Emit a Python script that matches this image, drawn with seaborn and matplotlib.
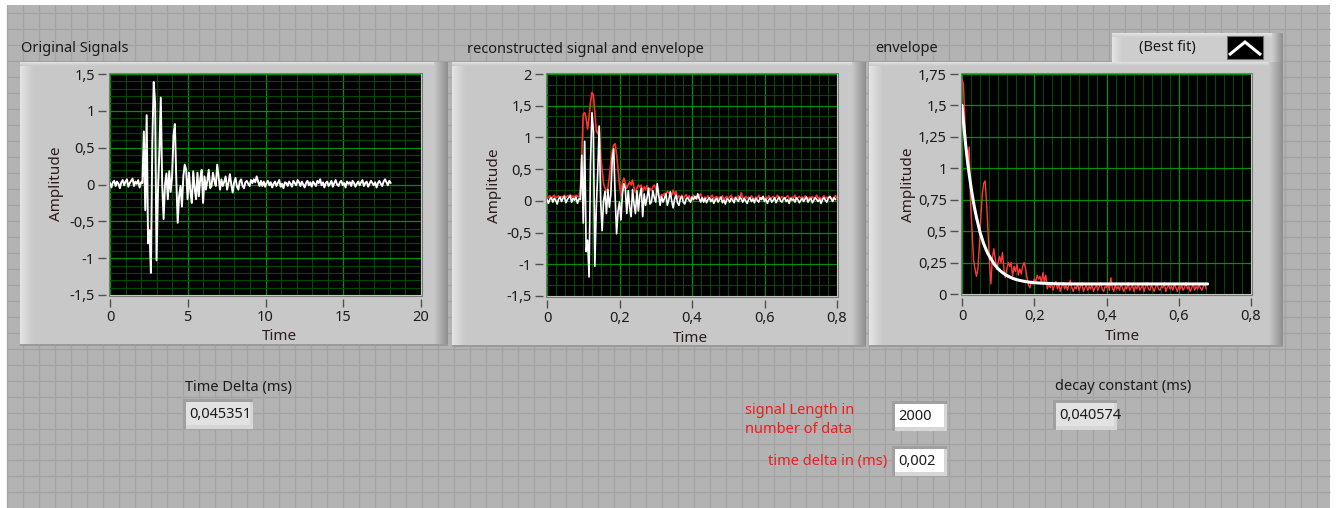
import numpy as np
import pandas as pd
import matplotlib
matplotlib.use("Agg")
import matplotlib.pyplot as plt
import seaborn as sns
from matplotlib.ticker import MultipleLocator, FuncFormatter, NullLocator
from matplotlib.patches import Rectangle, Polygon
from matplotlib.colors import LinearSegmentedColormap

# ---------------- data ----------------
TIME_DELTA_ORIG = 0.045351      # ms, "Time Delta (ms)"
TIME_DELTA_IN = 0.002           # ms, "time delta in (ms)"
SIGNAL_LENGTH = 2000            # "signal Length in number of data"
DECAY_CONSTANT = 0.040574       # ms
SAMPLE_STEP = 2                 # every 2nd sample kept

signal_pre = [0.02, -0.04, 0.03, 0.05, -0.02, 0.04, 0.01, -0.05, 0.03, 0.06,
              -0.01, 0.04, 0.07, -0.03, 0.02, 0.05, 0.08, -0.02, 0.04, 0.01,
              0.06, -0.04, 0.03, 0.02]
signal_burst = [0.72, -0.35, 0.94, -0.8, -0.62, -1.2, 0.58, 1.39, 1.1, -1.03,
                -0.1, 0.45, 1.18, 0.0, -0.47, 0.0, 0.15, -0.2, 0.18, -0.1,
                0.1, 0.66, 0.82, 0.07, -0.52, -0.16, -0.02, -0.3, 0.11, 0.27,
                0.2, -0.2, 0.16, -0.1, -0.25, 0.18, -0.05, -0.2, 0.16, -0.16,
                0.08, 0.2, -0.25, 0.11, -0.07, 0.05, 0.2, -0.05, -0.02, 0.16,
                0.05, -0.02, 0.27, 0.1, -0.07, 0.07, -0.02, 0.04, 0.11, -0.07,
                0.02, 0.14, 0.0, -0.11, 0.03, 0.09, -0.03, -0.07, 0.04, 0.07,
                -0.02, -0.05, 0.03, 0.05, 0.01, -0.02, 0.06, 0.02, 0.07, 0.03,
                0.11, 0.04, -0.02, 0.05]
signal_tail = [-0.02, 0.04, -0.03, 0.02, 0.05, -0.01, 0.03, -0.04, 0.01, 0.04,
               -0.02, 0.02, 0.06, -0.03, 0.01, -0.05, 0.03, 0.02, -0.02, 0.04,
               0.01, -0.03, 0.05, 0.02, -0.01, 0.06, 0.03, -0.02, 0.04, 0.0,
               -0.04, 0.02, 0.05, -0.01, 0.03, -0.03, 0.04, 0.01, -0.02, 0.05,
               0.02, 0.07, -0.01, 0.03, -0.04, 0.02, 0.04, -0.02, 0.01, 0.05,
               -0.03, 0.02, 0.06, 0.0, -0.02, 0.03, 0.05, -0.01, 0.02, -0.04,
               0.04, 0.01, 0.03, -0.02, 0.05, 0.02, -0.03, 0.01, 0.04, -0.01,
               0.03, 0.06, -0.02, 0.02, 0.04, -0.03, 0.01, 0.05, 0.02, -0.01,
               0.03, -0.04, 0.02, 0.05, 0.01, -0.02, 0.04, 0.07, 0.03, -0.01,
               0.05, 0.02]

envelope_pre = [0.06, 0.05, 0.08, 0.04, 0.07, 0.09, 0.05, 0.06, 0.08, 0.04,
                0.07, 0.06, 0.09, 0.05, 0.08, 0.07, 0.1, 0.06, 0.08, 0.05,
                0.09, 0.07, 0.06, 0.18, 0.75, 1.37, 1.39, 1.3, 1.13, 1.32, 1.55]
envelope_decay = [1.71, 1.67, 1.38, 1.1, 1.06, 1.17, 0.7, 0.5, 0.27, 0.2,
                  0.14, 0.2, 0.38, 0.6, 0.79, 0.88, 0.9, 0.73, 0.5, 0.25,
                  0.08, 0.28, 0.36, 0.28, 0.2, 0.25, 0.3, 0.25, 0.33, 0.2,
                  0.13, 0.2, 0.25, 0.22, 0.25, 0.14, 0.22, 0.18, 0.24, 0.15,
                  0.2, 0.16, 0.22, 0.25, 0.2, 0.13, 0.07, 0.05, 0.1, 0.08,
                  0.12, 0.1, 0.15, 0.12, 0.14, 0.09, 0.17, 0.1, 0.15, 0.04, 0.08]
envelope_tail = [0.05, 0.09, 0.03, 0.07, 0.1, 0.04, 0.08, 0.02, 0.06, 0.09,
                 0.04, 0.07, 0.03, 0.08, 0.11, 0.05, 0.02, 0.06, 0.04, 0.08,
                 0.03, 0.06, 0.09, 0.02, 0.05, 0.07, 0.03, 0.06, 0.04, 0.08,
                 0.02, 0.05, 0.07, 0.03, 0.06, 0.09, 0.04, 0.02, 0.06, 0.05,
                 0.08, 0.03, 0.13, 0.05, 0.02, 0.07, 0.04, 0.06, 0.03, 0.08,
                 0.05, 0.02, 0.06, 0.04, 0.09, 0.03, 0.05, 0.07, 0.02, 0.06,
                 0.04, 0.08, 0.03, 0.05, 0.07, 0.02, 0.06, 0.09, 0.04, 0.03,
                 0.07, 0.05, 0.02, 0.06, 0.08, 0.04, 0.03, 0.06, 0.05, 0.09,
                 0.02, 0.05, 0.07, 0.04, 0.06, 0.03, 0.08, 0.05, 0.02, 0.06,
                 0.04, 0.07, 0.03, 0.05, 0.09, 0.04, 0.06, 0.02, 0.05, 0.08,
                 0.03, 0.06, 0.04, 0.07, 0.05, 0.03, 0.06, 0.08, 0.04]

fit_time = [0, 0.005, 0.01, 0.015, 0.02, 0.025, 0.03, 0.035, 0.04, 0.05, 0.06,
            0.07, 0.08, 0.09, 0.10, 0.11, 0.12, 0.13, 0.14, 0.15, 0.16, 0.17,
            0.18, 0.19, 0.20, 0.22, 0.24, 0.26, 0.28, 0.30, 0.40, 0.50, 0.60, 0.68]
fit_value = [1.50, 1.34, 1.19, 1.06, 0.95, 0.85, 0.76, 0.68, 0.61, 0.49, 0.40,
             0.33, 0.28, 0.235, 0.20, 0.175, 0.154, 0.138, 0.125, 0.115, 0.108,
             0.102, 0.097, 0.093, 0.090, 0.086, 0.084, 0.082, 0.081, 0.080,
             0.080, 0.080, 0.080, 0.080]

signal = np.array(signal_pre + signal_burst + signal_tail)
envelope = np.array(envelope_pre + envelope_decay + envelope_tail)

t_orig = np.arange(len(signal)) * SAMPLE_STEP * TIME_DELTA_ORIG
t_rec = np.arange(len(signal)) * SAMPLE_STEP * TIME_DELTA_IN
t_env = np.arange(len(envelope)) * SAMPLE_STEP * TIME_DELTA_IN
peak = int(np.argmax(envelope))

df_orig = pd.DataFrame({"Time": t_orig, "Amplitude": signal})
df_rec = pd.DataFrame({"Time": t_rec, "Amplitude": signal})
df_env = pd.DataFrame({"Time": t_env, "Amplitude": envelope})
df_env3 = pd.DataFrame({"Time": t_env[peak:] - t_env[peak], "Amplitude": envelope[peak:]})
df_fit = pd.DataFrame({"Time": fit_time, "Amplitude": fit_value})

# ---------------- style ----------------
sns.set_style("white")
plt.rcParams["font.family"] = ["Noto Sans", "DejaVu Sans"]

W, H = 1336, 508
fig = plt.figure(figsize=(W / 100, H / 100), dpi=100)
fig.patch.set_facecolor("white")

bg = fig.add_axes([0, 0, 1, 1])
bg.axis("off")

PANEL_BG = "#b3b3b3"
GRID_LINE = "#a3a3a3"
BODY = "#c8c8c8"
TXT = "#1c1c1c"
FS = 10.5

# panel background with grid pattern
bg.add_patch(Rectangle((7, 5), 1323, 503, fc=PANEL_BG, ec="none", zorder=0))
gx = 7.3
while gx < 1330:
    bg.plot([gx, gx], [5, 508], color=GRID_LINE, lw=0.9, zorder=1, solid_capstyle="butt")
    gx += 15.966
gy = 13.3
while gy < 508:
    bg.plot([7, 1330], [gy, gy], color=GRID_LINE, lw=0.9, zorder=1, solid_capstyle="butt")
    gy += 15.97


def grad(x0, x1, y0, y1, c0, c1, horizontal=True, z=3):
    cmap = LinearSegmentedColormap.from_list("g", [c0, c1])
    arr = np.linspace(0, 1, 64)
    arr = arr[None, :] if horizontal else arr[:, None]
    bg.imshow(arr, extent=[x0, x1, y1, y0], cmap=cmap, aspect="auto",
              interpolation="bilinear", zorder=z)


def panel(x0, y0, x1, y1):
    bg.add_patch(Rectangle((x0, y0), x1 - x0, y1 - y0, fc=BODY, ec="none", zorder=2))
    grad(x0, x0 + 14, y0, y1, "#e4e4e4", BODY)
    grad(x1 - 14, x1, y0, y1, BODY, "#8e8e8e")
    grad(x0, x1 - 14, y0, y0 + 4, "#e2e2e2", BODY, horizontal=False)
    bg.add_patch(Rectangle((x0, y1 - 2), x1 - x0, 2, fc="#9a9a9a", ec="none", zorder=4))


panel(20, 62, 448, 346)
panel(452, 62, 866, 347)
panel(869, 62, 1283, 347)

# legend box (Best fit)
bg.add_patch(Rectangle((1112, 33), 171, 29, fc="#cdcdcd", ec="none", zorder=2))
grad(1112, 1122, 33, 62, "#e6e6e6", "#cdcdcd")
grad(1272, 1283, 33, 62, "#cdcdcd", "#8e8e8e")
grad(1112, 1272, 33, 37, "#e6e6e6", "#cdcdcd", horizontal=False)
bg.text(1167, 47.5, "(Best fit)", ha="center", va="center", fontsize=FS, color=TXT, zorder=6)
bg.add_patch(Rectangle((1227, 36), 36, 23, fc="black", ec="#707070", lw=0.8, zorder=6))
bg.add_patch(Polygon([[1229, 55], [1245, 42], [1261, 55]], closed=False, fill=False,
                     ec="white", lw=2.2, zorder=7))

# titles
bg.text(21, 48, "Original Signals", ha="left", va="center", fontsize=FS, color=TXT, zorder=6)
bg.text(467, 49.5, "reconstructed signal and envelope", ha="left", va="center",
        fontsize=FS, color=TXT, zorder=6)
bg.text(875, 48, "envelope", ha="left", va="center", fontsize=FS, color=TXT, zorder=6)

# axis labels
LAB = "#2e1c1c"
for (tx, ty), (ax_x, ax_y) in [((279, 337), (57, 184)), ((690, 338), (494, 186)),
                               ((1122, 337), (908, 185))]:
    bg.text(tx, ty, "Time", ha="center", va="center", fontsize=11, color=LAB, zorder=6)
    bg.text(ax_x, ax_y, "Amplitude", ha="center", va="center", rotation=90,
            fontsize=11, color=LAB, zorder=6)


def box(x0, y0, x1, y1, fill, text, color=TXT):
    bg.add_patch(Rectangle((x0, y0), x1 - x0, y1 - y0, fc="#a0a0a0", ec="none", zorder=3))
    bg.add_patch(Rectangle((x0 + 3, y0 + 3), x1 - x0 - 3, y1 - y0 - 3, fc="#d6d6d6",
                           ec="none", zorder=3))
    inner = Rectangle((x0 + 3, y0 + 3), x1 - x0 - 6, y1 - y0 - 7, fc=fill, ec="none", zorder=4)
    bg.add_patch(inner)
    t = bg.text(x0 + 6, (y0 + y1) / 2 + 0.5, text, ha="left", va="center", fontsize=FS,
                color=color, zorder=5)
    t.set_clip_path(inner)


bg.text(185, 387, "Time Delta (ms)", ha="left", va="center", fontsize=FS, color=TXT, zorder=6)
box(183, 399, 253, 429, "#e2e2e2", "0,045351")
bg.text(1055, 387, "decay constant (ms)", ha="left", va="center", fontsize=FS, color=TXT, zorder=6)
box(1053, 400, 1117, 430, "#e2e2e2", "0,040574")
RED_T = "#f01c1c"
bg.text(745, 420, "signal Length in\nnumber of data", ha="left", va="center",
        fontsize=FS, color=RED_T, linespacing=1.3, zorder=6)
box(892, 401, 947, 431, "white", f"{SIGNAL_LENGTH}")
bg.text(887, 461, "time delta in (ms)", ha="right", va="center", fontsize=FS, color=RED_T, zorder=6)
box(892, 446, 947, 476, "white", f"{TIME_DELTA_IN:g}".replace(".", ","))

bg.set_xlim(0, W)
bg.set_ylim(H, 0)


# ---------------- plot axes ----------------
def fmt(v, pos):
    if abs(v) < 1e-9:
        v = 0.0
    return f"{v:g}".replace(".", ",")


def make_ax(x0, y0, x1, y1, xlim, ylim, xmaj, xmin, ymaj, ymin):
    ax = fig.add_axes([x0 / W, 1 - y1 / H, (x1 - x0) / W, (y1 - y0) / H])
    ax.set_facecolor("black")
    ax.set_xlim(*xlim)
    ax.set_ylim(*ylim)
    ax.xaxis.set_major_locator(MultipleLocator(xmaj))
    ax.yaxis.set_major_locator(MultipleLocator(ymaj))
    ax.xaxis.set_minor_locator(MultipleLocator(xmin) if xmin else NullLocator())
    ax.yaxis.set_minor_locator(MultipleLocator(ymin) if ymin else NullLocator())
    ax.xaxis.set_major_formatter(FuncFormatter(fmt))
    ax.yaxis.set_major_formatter(FuncFormatter(fmt))
    ax.set_axisbelow(True)
    ax.grid(which="minor", color="#004a00", lw=0.8)
    ax.grid(which="major", color="#009000", lw=0.9)
    for s in ["left", "bottom"]:
        ax.spines[s].set_position(("outward", 3))
        ax.spines[s].set_visible(False)
    for s in ["top", "right"]:
        ax.spines[s].set_visible(False)
    ax.tick_params(which="major", direction="out", length=6, width=1, color="#505050",
                   labelsize=10.5, labelcolor=TXT, pad=2)
    ax.tick_params(which="minor", length=0)
    ax.tick_params(axis="y", which="both", left=True)
    ax.tick_params(axis="x", which="both", bottom=True)
    bg.add_patch(Rectangle((x0 - 1, y0 - 1), x1 - x0 + 2, y1 - y0 + 2, fc="none",
                           ec="#7a7a7a", lw=0.8, zorder=5))
    return ax


ax1 = make_ax(110, 74, 421, 295, (0, 20), (-1.5, 1.5), 5, 1, 0.5, 0.1)
sns.lineplot(data=df_orig, x="Time", y="Amplitude", ax=ax1, color="white", lw=1.4,
             estimator=None, sort=False, legend=False)

ax2 = make_ax(547, 74, 837, 296, (0, 0.8), (-1.5, 2), 0.2, 0.025, 0.5, 0.5 / 3)
sns.lineplot(data=df_env, x="Time", y="Amplitude", ax=ax2, color="#ff3030", lw=1.2,
             estimator=None, sort=False, legend=False)
sns.lineplot(data=df_rec, x="Time", y="Amplitude", ax=ax2, color="white", lw=1.2,
             estimator=None, sort=False, legend=False)

ax3 = make_ax(962, 74, 1251, 294, (0, 0.8), (0, 1.75), 0.2, 0.025, 0.25, None)
sns.lineplot(data=df_env3, x="Time", y="Amplitude", ax=ax3, color="#ff3a3a", lw=1.0,
             estimator=None, sort=False, legend=False)
sns.lineplot(data=df_fit, x="Time", y="Amplitude", ax=ax3, color="white", lw=2.2,
             estimator=None, sort=False, legend=False)

for ax in (ax1, ax2, ax3):
    ax.set_xlabel("")
    ax.set_ylabel("")

fig.savefig("out.png", dpi=100, facecolor=fig.get_facecolor())
